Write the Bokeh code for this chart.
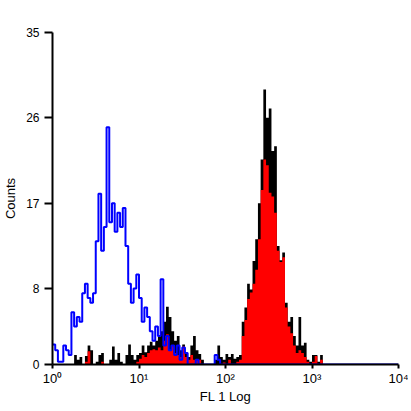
import numpy as np
from bokeh.plotting import figure
from bokeh.models import FixedTicker, Range1d
from bokeh.embed import file_html
from bokeh.resources import INLINE

# Histogram layout: 128 log-spaced channels over 4 decades
NBINS = 128
DECADES = 4

# Counts per channel
blue_counts = [
    2.1, 1.5, 0.3, 0.3, 2.0, 1.5, 1.0, 5.5, 4.0, 5.0,
    4.5, 7.5, 8.5, 7.0, 6.5, 7.5, 13, 18, 12, 14.5,
    25, 15, 17, 14, 16, 14.5, 16.5, 12.5, 8.5, 6.5,
    8, 9.5, 7, 4.5, 6, 5, 3.5, 2.5, 4, 3,
    9, 2, 3, 1.5, 2, 1, 2, 0.5, 1.8, 1.2,
    0, 0, 0, 0.5, 0, 0, 0, 0, 0, 0,
    1.0, 0.5, 0, 0, 0, 0, 0, 0, 0, 0,
] + [0] * 58

black_counts = [
    0, 0, 0, 0, 0, 0, 0, 0, 1.0, 0.5,
    0.8, 0, 0.9, 2.0, 1.5, 0, 0.3, 1.0, 1.2, 0,
    0, 0.5, 1.9, 0.5, 1.2, 0.3, 0, 1.0, 2.1, 1.0,
    0.5, 1.0, 1.2, 2.0, 1.3, 2.0, 2.4, 2.0, 2.5, 3.0,
    3.5, 4.5, 6.1, 5.0, 3.5, 2.5, 3.0, 1.5, 2.1, 1.2,
    0.8, 2.0, 3.0, 1.5, 1.1, 0.5, 0, 0, 0, 0,
    0.5, 2.0, 0.8, 0.5, 1.1, 0.8, 1.1, 0.6, 0.8, 1.0,
    4.5, 6.0, 8.5, 7.9, 10.9, 13.2, 17, 21.6, 29, 26,
    27, 22.5, 23, 12.5, 11, 11.8, 6.5, 4.5, 5, 3,
    2, 5, 2, 2.3, 0.5, 0.3, 1.0, 1.0, 0.3, 1.0,
] + [0] * 28

red_counts = [
    0, 0, 0, 0, 0, 0, 0, 0, 0, 0,
    0, 0, 0.3, 1.4, 0, 0, 0, 0, 0.3, 0,
    0, 0, 0, 0, 0, 0, 0, 0, 0, 0,
    0, 0.3, 0.6, 1.0, 0.8, 1.2, 1.5, 1.6, 1.5, 1.8,
    1.5, 2.5, 3.2, 1.5, 2.0, 1.2, 1.0, 0.8, 1.9, 0.8,
    0.5, 1.0, 0.5, 0.5, 0.5, 0, 0, 0, 0, 0,
    0, 0, 0, 0.2, 0, 0.5, 0, 0, 0.3, 0.5,
    3.0, 4.7, 6.9, 7.6, 8.5, 10, 13.2, 18.4, 21.6, 21,
    18.1, 17.7, 16, 12, 10.8, 11.3, 6, 4, 3.3, 2,
    1.2, 1.5, 1.2, 0.8, 0.3, 0, 0.3, 0.9, 0, 0.5,
] + [0] * 28

y_ticks = [0, 8, 17, 26, 35]
x_ticks = [1, 10, 100, 1000, 10000]
x_tick_labels = ["10\u2070", "10\u00b9", "10\u00b2", "10\u00b3", "10\u2074"]

edges = 10 ** (np.arange(NBINS + 1) * DECADES / NBINS)


def ext(vals):
    v = list(vals)
    return v + [v[-1]]


zeros = [0] * (NBINS + 1)

p = figure(frame_width=346, frame_height=332, x_axis_type="log",
           x_range=Range1d(1, 10000), y_range=Range1d(0, 35),
           output_backend="svg", toolbar_location=None,
           min_border_left=44, min_border_right=10,
           min_border_top=32, min_border_bottom=30)
p.outline_line_color = None
p.grid.visible = False
p.background_fill_color = "white"
p.border_fill_color = "white"

p.varea_step(x=edges, y1=zeros, y2=ext(black_counts), step_mode="after",
             fill_color="black")
p.varea_step(x=edges, y1=zeros, y2=ext(red_counts), step_mode="after",
             fill_color="#ff0000")
p.step(x=edges, y=ext(blue_counts), mode="after", line_color="#0000ff",
       line_width=2)

FONT = "Liberation Sans"

p.xaxis.ticker = FixedTicker(ticks=x_ticks)
p.xaxis.major_label_overrides = {t: l for t, l in zip(x_ticks, x_tick_labels)}
p.yaxis.ticker = FixedTicker(ticks=y_ticks)

for ax in (p.xaxis[0], p.yaxis[0]):
    ax.axis_line_width = 2
    ax.axis_line_color = "black"
    ax.major_tick_line_width = 2
    ax.major_tick_in = 0
    ax.minor_tick_line_color = None
    ax.major_label_text_font = FONT
    ax.major_label_text_color = "black"
    ax.axis_label_text_font = FONT
    ax.axis_label_text_font_style = "normal"
    ax.axis_label_text_color = "black"
    ax.axis_label_text_font_size = "13px"

p.xaxis.major_tick_out = 4
p.yaxis.major_tick_out = 8
p.xaxis.major_label_text_font_size = "13px"
p.yaxis.major_label_text_font_size = "12px"
p.xaxis.major_label_text_align = "right"
p.xaxis.major_label_standoff = 2
p.yaxis.major_label_standoff = 5
p.xaxis.axis_label = "FL 1 Log"
p.yaxis.axis_label = "Counts"
p.xaxis.axis_label_standoff = 0
p.yaxis.axis_label_standoff = 5

open("out.html", "w").write(file_html(p, INLINE))
